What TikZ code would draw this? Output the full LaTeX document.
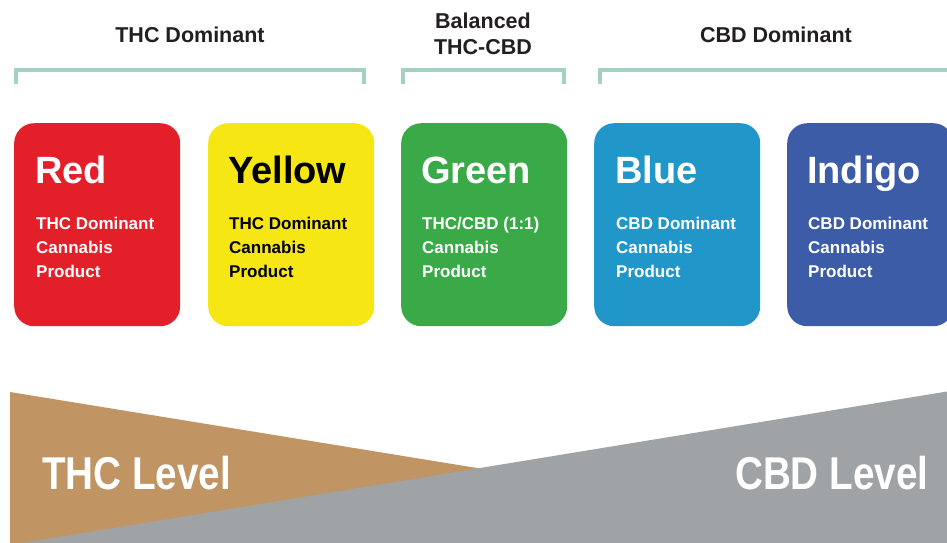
\documentclass[tikz,border=0pt]{standalone}
\usepackage{fontspec}
\setmainfont{Liberation Sans}
\definecolor{cRed}{HTML}{E3202A}
\definecolor{cYellow}{HTML}{F5E614}
\definecolor{cGreen}{HTML}{3AA948}
\definecolor{cBlue}{HTML}{2196C8}
\definecolor{cIndigo}{HTML}{3D5CA8}
\definecolor{cBrown}{HTML}{C09463}
\definecolor{cGrey}{HTML}{A0A3A5}
\definecolor{cTeal}{HTML}{A3D0C3}
\definecolor{cDark}{HTML}{231F20}
\tikzset{
  card/.style={rounded corners=20pt, minimum width=166pt, minimum height=203pt, anchor=north west, inner sep=0pt, draw=none},
  cardtitle/.style={anchor=base west, inner sep=0pt, font=\fontsize{38}{38}\selectfont\bfseries},
  cardline/.style={anchor=base west, inner sep=0pt, font=\fontsize{17}{17}\selectfont\bfseries},
  grouplabel/.style={anchor=base, inner sep=0pt, text=cDark, font=\fontsize{21.5}{21.5}\selectfont\bfseries},
  bracket/.style={draw=cTeal, line width=4.5pt},
  levellabel/.style={anchor=base west, inner sep=0pt, text=white, font=\fontsize{46}{46}\selectfont\bfseries, xscale=0.84}
}
\begin{document}
\begin{tikzpicture}[x=1pt,y=-1pt]
\useasboundingbox[fill=white] (0,0) rectangle (947,542);
% group labels
\node[grouplabel] (lthc) at (190,42) {THC Dominant};
\node[grouplabel] (lbal1) at (483,28) {Balanced};
\node[grouplabel] (lbal2) at (483,54) {THC-CBD};
\node[grouplabel] (lcbd) at (776,42) {CBD Dominant};
% brackets
\draw[bracket] (16,84) -- (16,70) -- (364,70) -- (364,84);
\draw[bracket] (403,84) -- (403,70) -- (564,70) -- (564,84);
\draw[bracket] (600,84) -- (600,70) -- (955,70);
% cards
\node[card, fill=cRed] (red) at (14,123) {};
\node[card, fill=cYellow] (yellow) at (208,123) {};
\node[card, fill=cGreen] (green) at (401,123) {};
\node[card, fill=cBlue] (blue) at (594,123) {};
\node[card, fill=cIndigo] (indigo) at (787,123) {};
% card texts
\node[cardtitle, text=white] (tred) at (35,183) {Red};
\node[cardline, text=white] (red1) at (36,229) {THC Dominant};
\node[cardline, text=white] (red2) at (36,253) {Cannabis};
\node[cardline, text=white] (red3) at (36,277) {Product};
\node[cardtitle, text=black] (tyellow) at (228,183) {Yellow};
\node[cardline, text=black] (yel1) at (229,229) {THC Dominant};
\node[cardline, text=black] (yel2) at (229,253) {Cannabis};
\node[cardline, text=black] (yel3) at (229,277) {Product};
\node[cardtitle, text=white] (tgreen) at (421,183) {Green};
\node[cardline, text=white] (gre1) at (422,229) {THC/CBD (1:1)};
\node[cardline, text=white] (gre2) at (422,253) {Cannabis};
\node[cardline, text=white] (gre3) at (422,277) {Product};
\node[cardtitle, text=white] (tblue) at (615,183) {Blue};
\node[cardline, text=white] (blu1) at (616,229) {CBD Dominant};
\node[cardline, text=white] (blu2) at (616,253) {Cannabis};
\node[cardline, text=white] (blu3) at (616,277) {Product};
\node[cardtitle, text=white] (tindigo) at (807,183) {Indigo};
\node[cardline, text=white] (ind1) at (808,229) {CBD Dominant};
\node[cardline, text=white] (ind2) at (808,253) {Cannabis};
\node[cardline, text=white] (ind3) at (808,277) {Product};
% level wedges
\fill[cBrown] (10,392) -- (10,545) -- (950,545) -- cycle;
\fill[cGrey] (10,545) -- (950,391) -- (950,545) -- cycle;
\node[levellabel] (thc) at (42,489) {THC Level};
\node[levellabel] (cbd) at (735,489) {CBD Level};
\end{tikzpicture}
\end{document}
